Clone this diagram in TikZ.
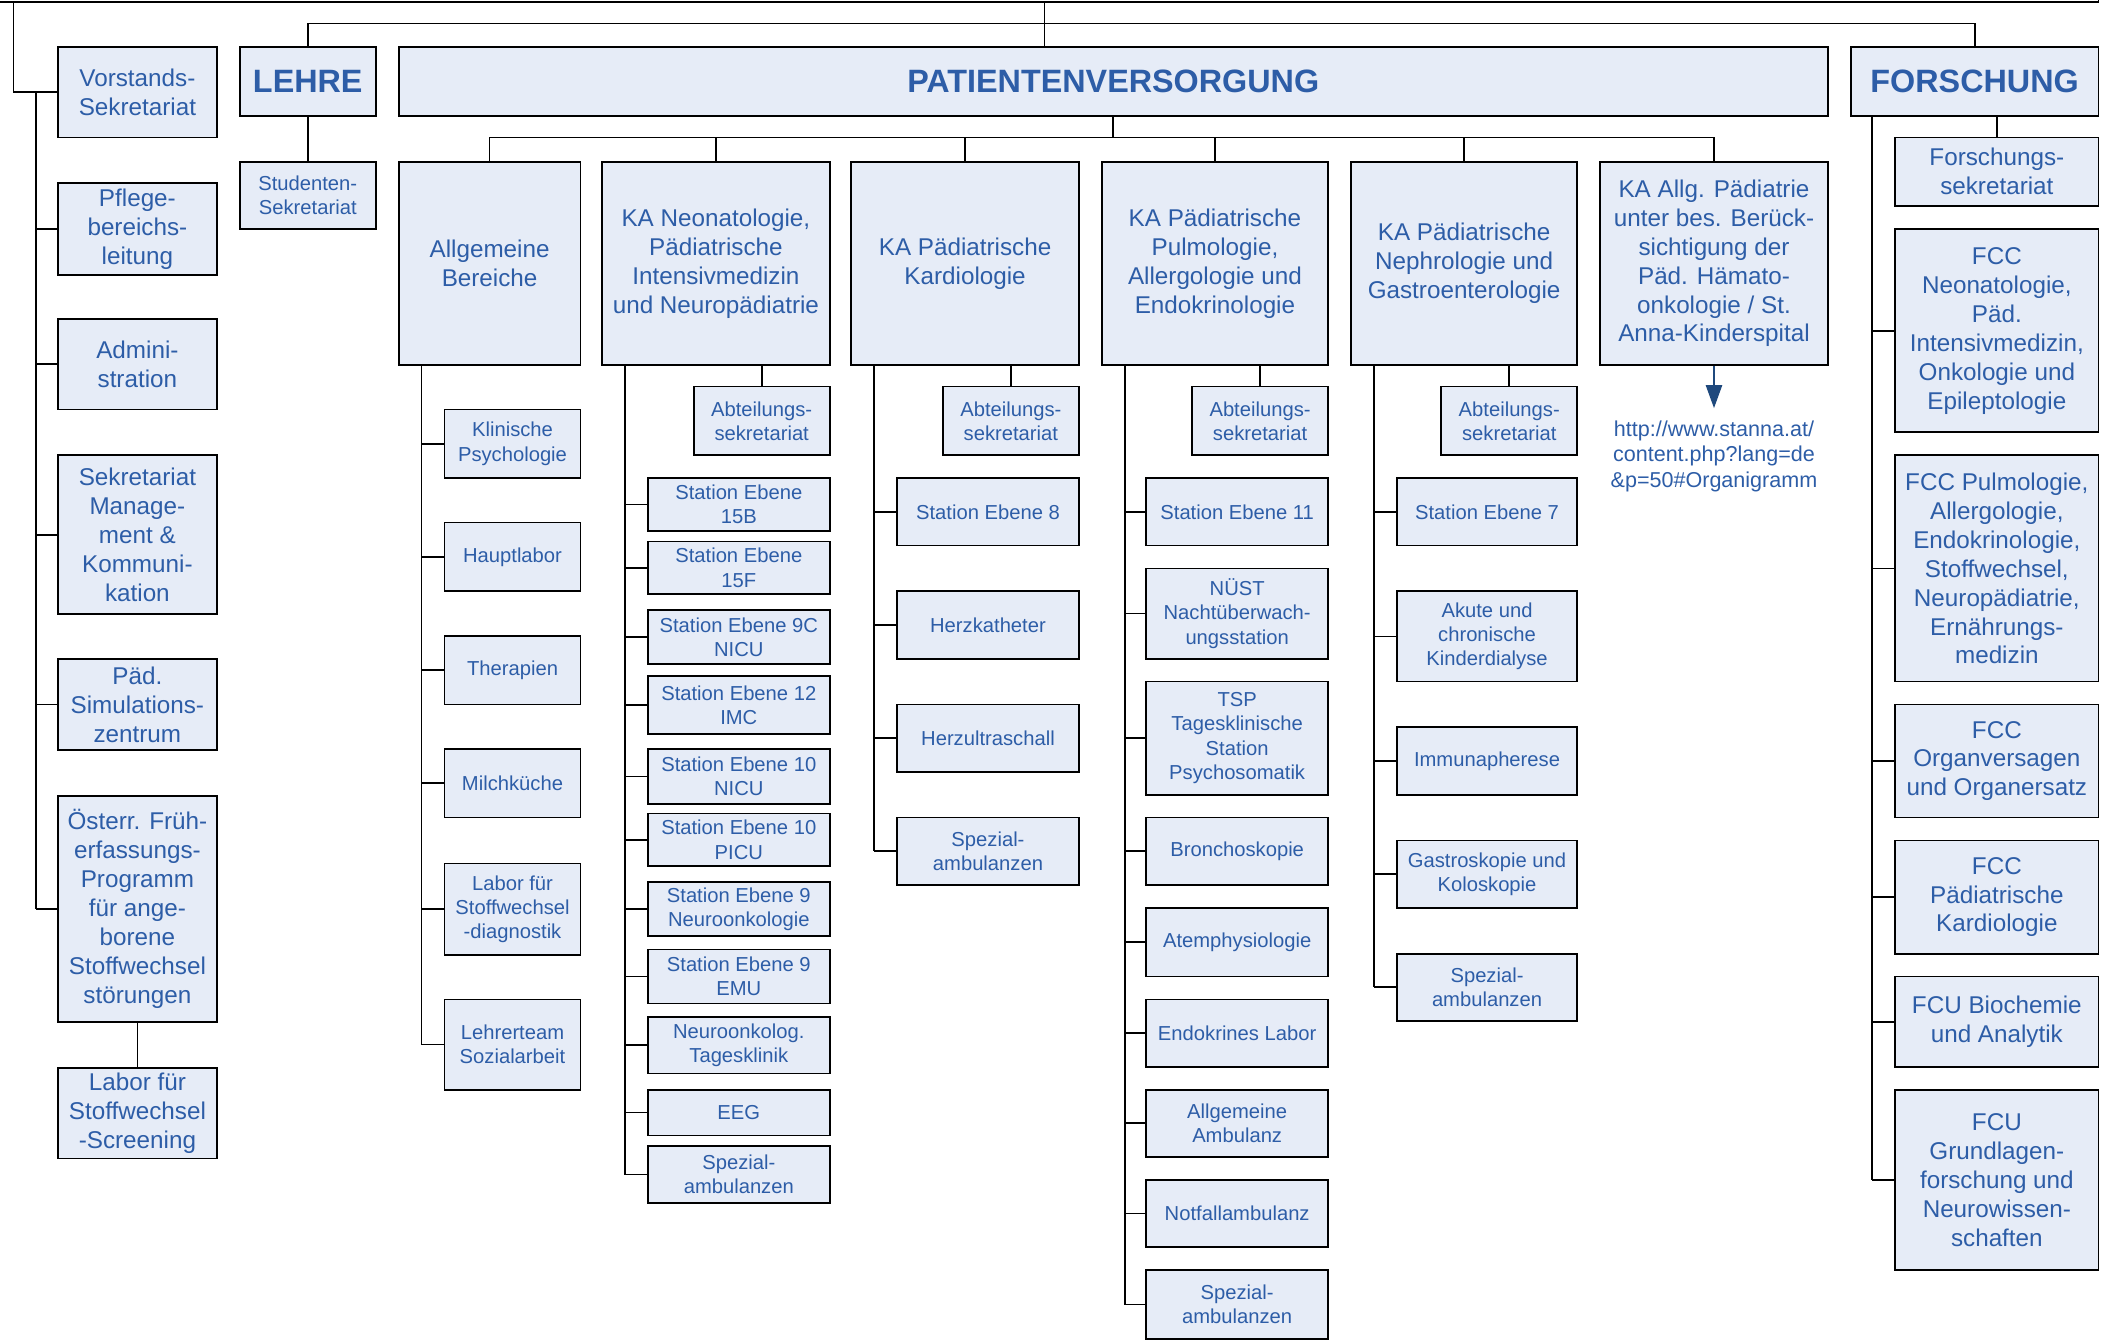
\documentclass[tikz,border=0pt]{standalone}
\usepackage{fontspec}
\setmainfont{Liberation Sans}
\usetikzlibrary{arrows.meta,calc}
\definecolor{txt}{HTML}{2D5DA7}
\definecolor{boxfill}{HTML}{E6ECF7}
\definecolor{arrcol}{HTML}{1F497D}
\tikzset{
  box/.style={draw=black,line width=1.3pt,fill=boxfill,text=txt,align=center,inner sep=0pt,font=\fontsize{15}{18}\selectfont},
  big/.style={font=\fontsize{18}{21.5}\selectfont},
  head/.style={font=\bfseries\fontsize{24}{28}\selectfont},
  conn/.style={draw=black,line width=1.3pt},
}
\newcommand\bx[7][]{\node[box,#1,minimum width={(#4-#3)*1pt},minimum height={(#6-#5)*1pt}] (#2) at ({(#3+#4)/2},{(#5+#6)/2}) {#7};}
\begin{document}
\begin{tikzpicture}[x=1pt,y=-1pt]
\useasboundingbox (0,0) rectangle (1568,996);
\fill[white] (0,0) rectangle (1568,996);
% root (only its lower edge is visible)
\bx[fill=white]{root}{-20}{1558}{-60}{1.5}{}
% staff column
\bx[big]{vorst}{43}{161}{35}{102}{Vorstands-\\Sekretariat}
\bx[big]{pflege}{43}{161}{136}{204}{Pflege-\\bereichs-\\leitung}
\bx[big]{admin}{43}{161}{237}{304}{Admini-\\stration}
\bx[big]{sekr}{43}{161}{338}{456}{Sekretariat\\Manage-\\ment \&\\Kommuni-\\kation}
\bx[big]{sim}{43}{161}{489}{557}{Päd.\\Simulations-\\zentrum}
\bx[big]{oest}{43}{161}{591}{759}{Österr. Früh-\\erfassungs-\\Programm\\für ange-\\borene\\Stoffwechsel\\störungen}
\bx[big]{screen}{43}{161}{793}{860}{Labor für\\Stoffwechsel\\-Screening}
% level 2
\bx[head]{lehre}{178}{279}{35}{86}{LEHRE}
\bx{stud}{178}{279}{120}{170}{Studenten-\\Sekretariat}
\bx[head]{pat}{296}{1357}{35}{86}{PATIENTENVERSORGUNG}
\bx[head]{forsch}{1374}{1558}{35}{86}{FORSCHUNG}
% level 3
\bx[big]{allg}{296}{431}{120}{271}{Allgemeine\\Bereiche}
\bx[big]{neo}{447}{616}{120}{271}{KA Neonatologie,\\Pädiatrische\\Intensivmedizin\\und Neuropädiatrie}
\bx[big]{kard}{632}{801}{120}{271}{KA Pädiatrische\\Kardiologie}
\bx[big]{pulmo}{818}{986}{120}{271}{KA Pädiatrische\\Pulmologie,\\Allergologie und\\Endokrinologie}
\bx[big]{neph}{1003}{1171}{120}{271}{KA Pädiatrische\\Nephrologie und\\Gastroenterologie}
\bx[big]{kaallg}{1188}{1357}{120}{271}{KA Allg. Pädiatrie\\unter bes. Berück-\\sichtigung der\\Päd. Hämato-\\onkologie / St.\\Anna-Kinderspital}
% Allgemeine Bereiche
\bx{a1}{330}{431}{304}{355}{Klinische\\Psychologie}
\bx{a2}{330}{431}{388}{439}{Hauptlabor}
\bx{a3}{330}{431}{472}{523}{Therapien}
\bx{a4}{330}{431}{556}{607}{Milchküche}
\bx{a5}{330}{431}{641}{709}{Labor für\\Stoffwechsel\\-diagnostik}
\bx{a6}{330}{431}{742}{809}{Lehrerteam\\Sozialarbeit}
% Neonatologie
\bx{nabt}{515}{616}{287}{338}{Abteilungs-\\sekretariat}
\bx{n1}{481}{616}{355}{394}{Station Ebene\\15B}
\bx{n2}{481}{616}{402}{441}{Station Ebene\\15F}
\bx{n3}{481}{616}{453}{493}{Station Ebene 9C\\NICU}
\bx{n4}{481}{616}{502}{545}{Station Ebene 12\\IMC}
\bx{n5}{481}{616}{556}{597}{Station Ebene 10\\NICU}
\bx{n6}{481}{616}{604}{643}{Station Ebene 10\\PICU}
\bx{n7}{481}{616}{655}{695}{Station Ebene 9\\Neuroonkologie}
\bx{n8}{481}{616}{705}{745}{Station Ebene 9\\EMU}
\bx{n9}{481}{616}{755}{797}{Neuroonkolog.\\Tagesklinik}
\bx{n10}{481}{616}{809}{843}{EEG}
\bx{n11}{481}{616}{851}{893}{Spezial-\\ambulanzen}
% Kardiologie
\bx{kabt}{700}{801}{287}{338}{Abteilungs-\\sekretariat}
\bx{k1}{666}{801}{355}{405}{Station Ebene 8}
\bx{k2}{666}{801}{439}{489}{Herzkatheter}
\bx{k3}{666}{801}{523}{573}{Herzultraschall}
\bx{k4}{666}{801}{607}{657}{Spezial-\\ambulanzen}
% Pulmologie
\bx{pabt}{885}{986}{287}{338}{Abteilungs-\\sekretariat}
\bx{p1}{851}{986}{355}{405}{Station Ebene 11}
\bx{p2}{851}{986}{422}{489}{NÜST\\Nachtüberwach-\\ungsstation}
\bx{p3}{851}{986}{506}{590}{TSP\\Tagesklinische\\Station\\Psychosomatik}
\bx{p4}{851}{986}{607}{657}{Bronchoskopie}
\bx{p5}{851}{986}{674}{725}{Atemphysiologie}
\bx{p6}{851}{986}{742}{792}{Endokrines Labor}
\bx{p7}{851}{986}{809}{859}{Allgemeine\\Ambulanz}
\bx{p8}{851}{986}{876}{926}{Notfallambulanz}
\bx{p9}{851}{986}{943}{994}{Spezial-\\ambulanzen}
% Nephrologie
\bx{eabt}{1070}{1171}{287}{338}{Abteilungs-\\sekretariat}
\bx{e1}{1037}{1171}{355}{405}{Station Ebene 7}
\bx{e2}{1037}{1171}{439}{506}{Akute und\\chronische\\Kinderdialyse}
\bx{e3}{1037}{1171}{540}{590}{Immunapherese}
\bx{e4}{1037}{1171}{624}{674}{Gastroskopie und\\Koloskopie}
\bx{e5}{1037}{1171}{708}{758}{Spezial-\\ambulanzen}
% URL
\node[text=txt,align=center,inner sep=0pt,anchor=north,font=\fontsize{16}{19}\selectfont] (url) at (1272.5,312) {http://www.stanna.at/\\content.php?lang=de\\\&p=50\#Organigramm};
% Forschung
\bx[big]{f1}{1407}{1558}{102}{153}{Forschungs-\\sekretariat}
\bx[big]{f2}{1407}{1558}{170}{321}{FCC\\Neonatologie,\\Päd.\\Intensivmedizin,\\Onkologie und\\Epileptologie}
\bx[big]{f3}{1407}{1558}{338}{506}{FCC Pulmologie,\\Allergologie,\\Endokrinologie,\\Stoffwechsel,\\Neuropädiatrie,\\Ernährungs-\\medizin}
\bx[big]{f4}{1407}{1558}{523}{607}{FCC\\Organversagen\\und Organersatz}
\bx[big]{f5}{1407}{1558}{624}{708}{FCC\\Pädiatrische\\Kardiologie}
\bx[big]{f6}{1407}{1558}{725}{792}{FCU Biochemie\\und Analytik}
\bx[big]{f7}{1407}{1558}{809}{943}{FCU\\Grundlagen-\\forschung und\\Neurowissen-\\schaften}
% helper coordinates
\coordinate (vx) at (10,0);
\coordinate (sx) at (27,0);
\coordinate (px) at (775.5,0);
\coordinate (l2) at (0,17.5);
\coordinate (l3) at (0,102);
\coordinate (ax) at (313,0);
\coordinate (nx) at (464,0);
\coordinate (kx) at (649,0);
\coordinate (qx) at (835,0);
\coordinate (ex) at (1020,0);
\coordinate (fx) at (1390,0);
% connectors: staff
\draw[conn] (root.south -| vx) |- (vorst.west);
\draw[conn] (vorst.west -| sx) -- (oest.west -| sx);
\foreach \n in {pflege,admin,sekr,sim,oest} \draw[conn] (\n.west) -- (\n.west -| sx);
\draw[conn] (oest.south) -- (screen.north);
% level 2
\draw[conn] (root.south -| px) -- (pat.north -| px);
\draw[conn] (lehre.north) -- (lehre.north |- l2) -- (forsch.north |- l2) -- (forsch.north);
\draw[conn] (lehre.south) -- (stud.north);
% level 3
\draw[conn] (pat.south) -- (pat.south |- l3);
\draw[conn] (allg.north) -- (allg.north |- l3) -- (kaallg.north |- l3) -- (kaallg.north);
\foreach \n in {neo,kard,pulmo,neph} \draw[conn] (\n.north) -- (\n.north |- l3);
% Allgemeine
\draw[conn] (allg.south -| ax) -- (a6.west -| ax);
\foreach \i in {1,...,6} \draw[conn] (a\i.west) -- (a\i.west -| ax);
% Neo
\draw[conn] (neo.south -| nabt.north) -- (nabt.north);
\draw[conn] (neo.south -| nx) -- (n11.west -| nx);
\foreach \i in {1,...,11} \draw[conn] (n\i.west) -- (n\i.west -| nx);
% Kardio
\draw[conn] (kard.south -| kabt.north) -- (kabt.north);
\draw[conn] (kard.south -| kx) -- (k4.west -| kx);
\foreach \i in {1,...,4} \draw[conn] (k\i.west) -- (k\i.west -| kx);
% Pulmo
\draw[conn] (pulmo.south -| pabt.north) -- (pabt.north);
\draw[conn] (pulmo.south -| qx) -- (p9.west -| qx);
\foreach \i in {1,...,9} \draw[conn] (p\i.west) -- (p\i.west -| qx);
% Nephro
\draw[conn] (neph.south -| eabt.north) -- (eabt.north);
\draw[conn] (neph.south -| ex) -- (e5.west -| ex);
\foreach \i in {1,...,5} \draw[conn] (e\i.west) -- (e\i.west -| ex);
% KA Allg arrow
\draw[draw=arrcol,line width=1.3pt,-{Triangle[length=17pt,width=12pt]},shorten >=9pt] (kaallg.south) -- (url.north);
% Forschung
\draw[conn] (forsch.south -| f1.north) -- (f1.north);
\draw[conn] (forsch.south -| fx) -- (f7.west -| fx);
\foreach \i in {2,...,7} \draw[conn] (f\i.west) -- (f\i.west -| fx);
\end{tikzpicture}
\end{document}
